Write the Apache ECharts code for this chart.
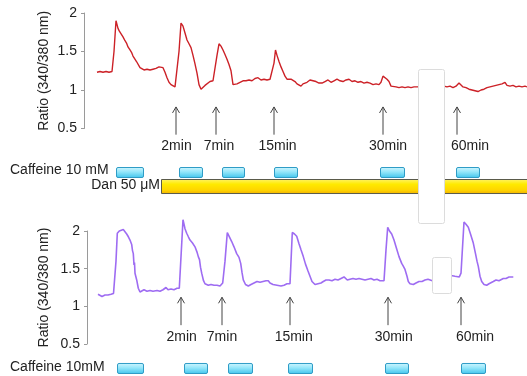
<!DOCTYPE html>
<html><head><meta charset="utf-8">
<script src="https://cdn.jsdelivr.net/npm/echarts@6/dist/echarts.min.js"></script>
<style>html,body{margin:0;padding:0;background:#fff}#c{width:527px;height:376px}</style>
</head><body><div id="c"></div>
<script>
// ---- data (time in arbitrary units, ratio 340/380) ----
const topTrace = [[13,1.23],[16,1.24],[19,1.23],[22,1.24],[25,1.23],[28,1.24],[30,1.5],[32,1.9],[34,1.8],[35.5,1.76],[37,1.74],[39,1.69],[41,1.64],[42.5,1.61],[44,1.56],[46,1.52],[47.5,1.49],[49,1.44],[51,1.42],[52.5,1.37],[54,1.35],[56,1.29],[58,1.27],[60,1.26],[63,1.27],[66,1.26],[69,1.27],[72,1.28],[75,1.30],[77,1.31],[79,1.29],[81,1.23],[83,1.16],[85,1.10],[87,1.07],[89,1.06],[91,1.04],[93,1.05],[95,1.5],[97,1.87],[99,1.83],[101,1.74],[103,1.65],[105,1.60],[107,1.55],[109,1.45],[111,1.34],[113,1.22],[115,1.07],[117,1.01],[119,1.02],[121,1.06],[123,1.08],[126,1.11],[129,1.12],[131,1.14],[133,1.45],[135,1.60],[137,1.57],[139,1.52],[141,1.46],[143,1.40],[145,1.33],[147,1.25],[149,1.07],[151,1.09],[153,1.08],[156,1.10],[159,1.12],[162,1.12],[165,1.13],[168,1.12],[171,1.15],[174,1.16],[177,1.13],[180,1.14],[183,1.13],[186,1.14],[188,1.15],[190,1.35],[191.5,1.52],[193,1.45],[195,1.37],[197,1.30],[199,1.24],[201,1.18],[203,1.14],[205,1.13],[207,1.14],[209,1.12],[211,1.11],[213,1.08],[215,1.09],[217,1.05],[219,1.08],[221,1.10],[223,1.10],[226,1.13],[229,1.12],[232,1.11],[235,1.09],[238,1.09],[241,1.11],[244,1.13],[247,1.10],[250,1.12],[253,1.14],[256,1.12],[259,1.11],[262,1.13],[265,1.14],[268,1.11],[271,1.12],[274,1.10],[277,1.11],[280,1.09],[283,1.10],[286,1.09],[289,1.07],[292,1.08],[295,1.07],[297,1.10],[299,1.18],[301,1.20],[303,1.14],[305,1.11],[307,1.05],[309,1.03],[312,1.04],[315,1.03],[318,1.04],[321,1.03],[324,1.04],[327,1.03],[330,1.04],[333,1.04],[360,1.05],[363,1.04],[366,1.05],[369,1.03],[372,1.05],[375,1.09],[377,1.08],[379,1.04],[382,1.03],[385,1.01],[388,1.00],[391,0.99],[394,0.98],[397,1.00],[400,1.01],[403,1.03],[406,1.04],[409,1.05],[412,1.06],[415,1.07],[418,1.08],[421,1.10],[423,1.06],[426,1.05],[429,1.06],[432,1.04],[435,1.05],[438,1.04],[441,1.05],[443,1.04]];

const bottomTrace = [[11,1.16],[13,1.14],[15,1.13],[18,1.15],[21,1.15],[24,1.16],[26.5,1.17],[28,1.19],[29,1.6],[30.3,1.97],[32.3,2.0],[34,2.0],[36.3,2.02],[38,1.99],[39.7,1.96],[41.5,1.92],[43,1.88],[44.7,1.82],[45.5,1.74],[46.3,1.70],[47,1.55],[47.5,1.58],[48,1.44],[49.7,1.35],[51.3,1.24],[53,1.19],[54.7,1.2],[57,1.22],[60,1.20],[63,1.21],[66,1.20],[70,1.21],[73,1.20],[76,1.22],[79,1.25],[81,1.22],[84,1.23],[87,1.22],[90,1.24],[92.3,1.24],[93.7,1.26],[96,2.15],[98,2.03],[99.7,1.97],[101.5,1.92],[103,1.88],[105.5,1.84],[108,1.79],[110,1.72],[111.3,1.66],[112.5,1.62],[113.5,1.52],[114.7,1.44],[116.5,1.34],[118,1.30],[121.3,1.28],[124,1.29],[127,1.28],[130,1.28],[133,1.27],[135.7,1.31],[138,1.6],[140.3,1.98],[142.5,1.92],[144.7,1.86],[147,1.79],[149.7,1.70],[152,1.65],[153.7,1.57],[155,1.45],[156.3,1.35],[158.5,1.29],[161.3,1.27],[164,1.29],[167,1.31],[170,1.33],[173,1.32],[176,1.33],[179,1.34],[181.3,1.34],[183,1.31],[186,1.29],[190,1.28],[194,1.27],[197,1.28],[200,1.30],[203,1.30],[205.3,1.98],[207.5,1.96],[209.7,1.93],[212,1.83],[214,1.75],[216.3,1.66],[218.5,1.56],[221,1.47],[223,1.40],[225,1.33],[228,1.29],[231,1.30],[234,1.31],[236.3,1.33],[239,1.35],[242,1.35],[245,1.34],[248,1.36],[251,1.35],[254,1.37],[257,1.39],[258,1.37],[260.3,1.35],[263,1.36],[266,1.37],[269,1.36],[272,1.37],[275,1.36],[278,1.35],[281,1.36],[284,1.37],[287,1.35],[290,1.36],[293,1.34],[295,1.34],[297,1.34],[299,1.75],[300.7,2.05],[302.5,2.0],[304.7,1.96],[307,1.88],[309.7,1.76],[312,1.66],[314.7,1.57],[316,1.54],[318,1.49],[320,1.40],[321.3,1.33],[323,1.30],[326.3,1.29],[329,1.31],[332,1.33],[335,1.33],[338,1.35],[341,1.36],[343,1.35],[345.3,1.34],[364,1.41],[368,1.40],[372.3,1.39],[374,1.44],[377,2.12],[379,2.09],[381.3,2.05],[383.5,1.96],[386.3,1.84],[388.5,1.70],[390,1.60],[391.3,1.53],[393,1.40],[394.7,1.33],[397,1.29],[399.7,1.28],[402,1.30],[404,1.32],[406.3,1.33],[409,1.35],[412,1.34],[416.3,1.37],[419,1.37],[422,1.39],[424,1.38],[426.3,1.39]];

const arrowLabels = ['2min','7min','15min','30min','60min'];
const topArrowTimes = [92,132,190,299,373];
const bottomArrowTimes = [94,135,203,301,374];
const topCaffeine = [[32,59],[95,118],[138,160],[190,213],[296,320],[372,395]];
const bottomCaffeine = [[30,56],[97,120],[141,165],[201,225],[298,321],[374,398]];
const danRange = [[77,443]];
const yTickMin = 0.5, yTickMax = 2, yTickStep = 0.5;
const yName = 'Ratio (340/380 nm)';
const topCaffeineLabel = 'Caffeine 10 mM';
const bottomCaffeineLabel = 'Caffeine 10mM';
const danLabel = 'Dan 50 μM';

// ---- rendering ----
const FONT = 'Liberation Sans, Arial, Helvetica, sans-serif';
const topLabelShift = [0.5, 3, 3.5, 5, 13];      // px offsets of labels from arrows
const bottomLabelShift = [0.7, 0, 3.7, 5.7, 14];
const chart = echarts.init(document.getElementById('c'), null, {renderer:'canvas'});

function yAxisCfg(gridIndex, gap){
  return {
    type:'value', gridIndex, min:yTickMin, max:yTickMax, interval:yTickStep,
    name:yName, nameLocation:'middle', nameGap:gap, nameMoveOverlap:false,
    nameTextStyle:{fontSize:14, color:'#222', fontFamily:FONT},
    axisLine:{show:true, lineStyle:{color:'#9a9a9a', width:1}},
    axisTick:{show:true, length:3, lineStyle:{color:'#9a9a9a'}},
    axisLabel:{fontSize:14, color:'#222', fontFamily:FONT, margin:7},
    splitLine:{show:false}
  };
}

function arrowSeries(xi, times, shifts, tipV, baseV, labelV){
  return {
    type:'custom', xAxisIndex:xi, yAxisIndex:xi, clip:false, silent:true,
    data: times.map(t=>[t, tipV]),
    encode:{x:0, y:1},
    renderItem(params, api){
      const t = api.value(0);
      const p1 = api.coord([t, tipV]);
      const p2 = api.coord([t, baseV]);
      const pl = api.coord([t, labelV]);
      return {type:'group', children:[
        {type:'line', shape:{x1:p1[0], y1:p1[1], x2:p2[0], y2:p2[1]}, style:{stroke:'#444', lineWidth:1}},
        {type:'polyline', shape:{points:[[p1[0]-3.5,p1[1]+6],[p1[0],p1[1]],[p1[0]+3.5,p1[1]+6]]}, style:{stroke:'#444', lineWidth:1, fill:null}},
        {type:'text', x:pl[0]+shifts[params.dataIndex], y:pl[1], style:{text:arrowLabels[params.dataIndex], fontSize:14, fontFamily:FONT, fill:'#222', align:'center', verticalAlign:'middle'}}
      ]};
    }
  };
}

function caffeineSeries(xi, ranges, yTopV, yBotV){
  return {
    type:'custom', xAxisIndex:xi, yAxisIndex:xi, clip:false, silent:true,
    data: ranges,
    encode:{x:[0,1]},
    renderItem(params, api){
      const a = api.coord([api.value(0), yTopV]);
      const b = api.coord([api.value(1), yBotV]);
      return {type:'rect', shape:{x:a[0]+0.5, y:a[1]+0.5, width:b[0]-a[0], height:b[1]-a[1], r:1.5},
        style:{fill:new echarts.graphic.LinearGradient(0,0,0,1,[{offset:0,color:'#d2f6ff'},{offset:0.45,color:'#93e6fa'},{offset:1,color:'#3fc4ec'}]),
               stroke:'#2f9cc6', lineWidth:1}};
    }
  };
}

function danSeries(xi, ranges, yTopV, yBotV){
  return {
    type:'custom', xAxisIndex:xi, yAxisIndex:xi, clip:false, silent:true,
    data: ranges, encode:{x:[0,1]},
    renderItem(params, api){
      const a = api.coord([api.value(0), yTopV]);
      const b = api.coord([api.value(1), yBotV]);
      return {type:'rect', shape:{x:a[0]+0.5, y:a[1]+0.5, width:b[0]-a[0]+4, height:b[1]-a[1]},
        style:{fill:new echarts.graphic.LinearGradient(0,0,0,1,[{offset:0,color:'#fff36a'},{offset:0.35,color:'#ffea00'},{offset:0.75,color:'#ffd400'},{offset:1,color:'#f0b000'}]),
               stroke:'#5a5a4a', lineWidth:1}};
    }
  };
}

const option = {
  animation:false,
  backgroundColor:'#fff',
  grid:[
    {left:84, top:13, width:443, height:115.5},
    {left:87, top:231, width:440, height:113}
  ],
  xAxis:[
    {type:'value', gridIndex:0, min:0, max:443, show:false},
    {type:'value', gridIndex:1, min:0, max:440, show:false}
  ],
  yAxis:[yAxisCfg(0,33), yAxisCfg(1,36)],
  series:[
    {type:'line', xAxisIndex:0, yAxisIndex:0, data:topTrace, showSymbol:false, clip:false,
     lineStyle:{color:'#cc2127', width:1.4}, z:3},
    {type:'line', xAxisIndex:1, yAxisIndex:1, data:bottomTrace, showSymbol:false, clip:false,
     lineStyle:{color:'#9e6cf2', width:1.6}, z:3},
    arrowSeries(0, topArrowTimes, topLabelShift, 0.78, 0.42, 0.27),
    arrowSeries(1, bottomArrowTimes, bottomLabelShift, 1.12, 0.75, 0.59),
    caffeineSeries(0, topCaffeine, 0.0, -0.13),
    caffeineSeries(1, bottomCaffeine, 0.248, 0.115),
    danSeries(0, danRange, -0.156, -0.338)
  ],
  graphic:[
    {type:'text', left:10, top:163, z:100, style:{text:topCaffeineLabel, fontSize:14, fontFamily:FONT, fill:'#222'}},
    {type:'text', right:367, top:178, z:100, style:{text:danLabel, fontSize:14, fontFamily:FONT, fill:'#222'}},
    {type:'text', left:10, top:360, z:100, style:{text:bottomCaffeineLabel, fontSize:14, fontFamily:FONT, fill:'#222'}},
    {type:'rect', z:100, shape:{x:418.5, y:69.5, width:26, height:154, r:2}, style:{fill:'#fff', stroke:'#dcdcdc', lineWidth:1}},
    {type:'rect', z:100, shape:{x:432.5, y:257.5, width:19, height:36, r:2}, style:{fill:'#fff', stroke:'#dcdcdc', lineWidth:1}}
  ]
};
chart.setOption(option);
</script></body></html>
